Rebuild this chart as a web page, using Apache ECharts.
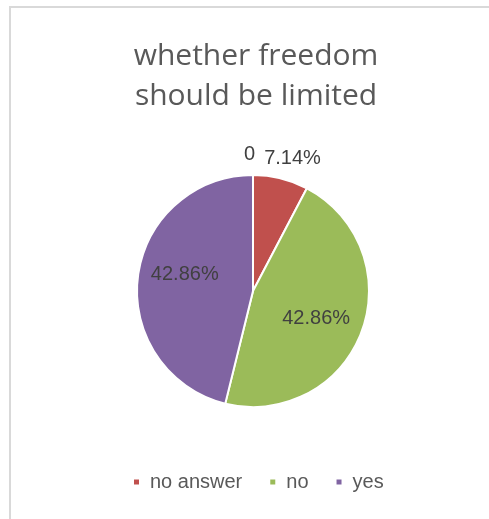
<!DOCTYPE html>
<html>
<head>
<meta charset="utf-8">
<script src="https://cdn.jsdelivr.net/npm/echarts@6/dist/echarts.min.js"></script>
<style>
  html, body { margin: 0; padding: 0; background: #fff; }
  #chart { width: 489px; height: 519px; }
</style>
</head>
<body>
<div id="chart"></div>
<script>
// Survey answers: share of respondents per answer (percent of all 14 replies)
const categories = ['no answer', 'no', 'yes'];
const shares = [7.14, 42.86, 42.86];
const sliceColors = ['#C0504D', '#9BBB59', '#8064A2'];
// Empty reply group: zero share, shown only as its "0" label at the top
const emptyGroup = { name: '', value: 0 };

const PIE_CX = 253, PIE_CY = 291, PIE_R = 116;
// Inside labels sit a little further out than the half-radius default
const INSIDE_LABEL_PUSH = 1.16;
// Small per-label nudges (dx, dy) by data index
const LABEL_NUDGE = { 0: [7, -1], 1: [2, 0], 2: [-3, 2], 3: [2, -8] };

const pieData = [
  {
    name: emptyGroup.name,
    value: emptyGroup.value,
    itemStyle: { color: 'transparent', borderWidth: 0 },
    label: { position: 'outside', formatter: '{c}' }
  }
].concat(categories.map((name, i) => ({
  name: name,
  value: shares[i],
  itemStyle: { color: sliceColors[i] },
  label: i === 0
    ? { position: 'outside', formatter: (p) => p.value.toFixed(2) + '%' }
    : { position: 'inside', formatter: (p) => p.value.toFixed(2) + '%' }
})));

const chart = echarts.init(document.getElementById('chart'), null, { renderer: 'canvas' });
chart.setOption({
  backgroundColor: '#ffffff',
  animation: false,
  graphic: [{
    type: 'rect',
    shape: { x: 10, y: 7, width: 520, height: 560 },
    style: { fill: 'none', stroke: '#d9d9d9', lineWidth: 2 },
    silent: true
  }],
  title: {
    text: 'whether freedom\nshould be limited',
    left: 251,
    top: 31,
    textAlign: 'center',
    textStyle: {
      fontFamily: '"Open Sans", sans-serif',
      fontSize: 30,
      fontWeight: 'normal',
      color: '#595959',
      lineHeight: 40
    }
  },
  legend: {
    data: categories,
    left: 127,
    top: 467,
    icon: 'rect',
    itemWidth: 7,
    itemHeight: 7,
    itemGap: 26,
    textStyle: {
      fontFamily: '"Liberation Sans", Arial, sans-serif',
      fontSize: 20,
      color: '#595959',
      padding: [0, 0, 0, 5]
    }
  },
  series: [{
    type: 'pie',
    center: [PIE_CX, PIE_CY],
    radius: PIE_R,
    startAngle: 90,
    clockwise: true,
    avoidLabelOverlap: false,
    itemStyle: { borderColor: '#ffffff', borderWidth: 2 },
    label: {
      fontFamily: '"Liberation Sans", Arial, sans-serif',
      fontSize: 20,
      color: '#404040'
    },
    labelLine: { show: false, length: 20, length2: 0 },
    labelLayout: function (p) {
      const n = LABEL_NUDGE[p.dataIndex] || [0, 0];
      if (p.dataIndex === 0) return { align: 'right', dx: n[0], dy: n[1] };
      if (p.dataIndex === 1) return { align: 'center', dx: n[0], dy: n[1] };
      const r = p.labelRect;
      const lx = r.x + r.width / 2, ly = r.y + r.height / 2;
      return {
        x: PIE_CX + (lx - PIE_CX) * INSIDE_LABEL_PUSH + n[0],
        y: PIE_CY + (ly - PIE_CY) * INSIDE_LABEL_PUSH + n[1]
      };
    },
    data: pieData
  }]
});
</script>
</body>
</html>
